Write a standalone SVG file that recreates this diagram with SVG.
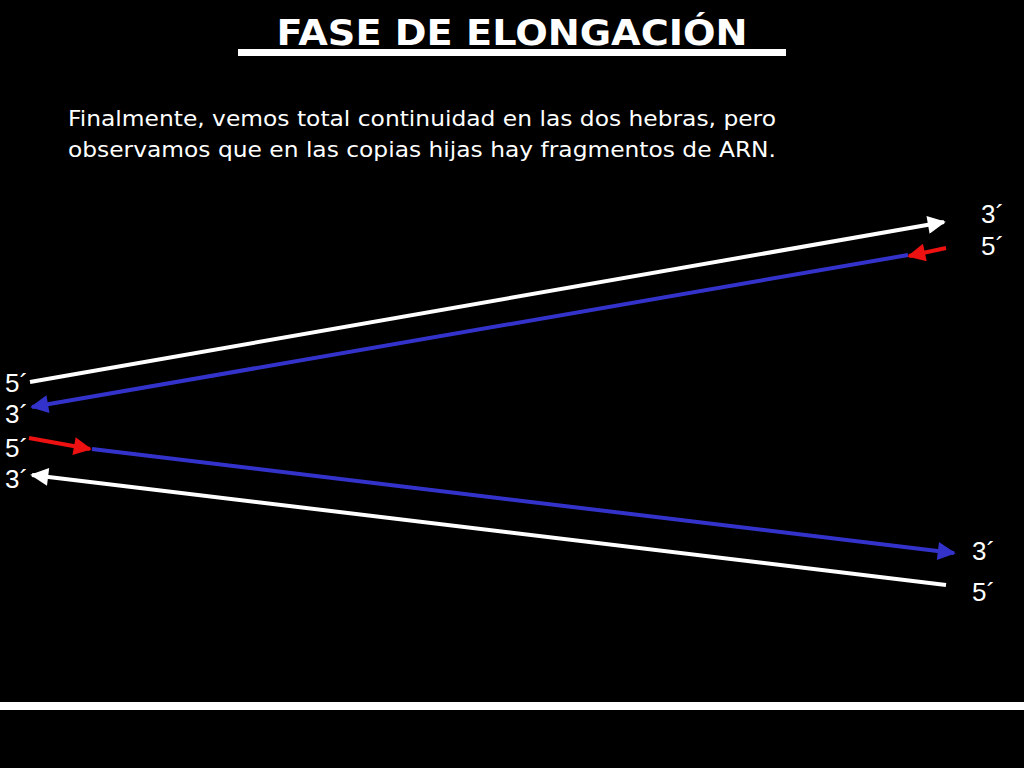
<svg xmlns="http://www.w3.org/2000/svg" width="1024" height="768" viewBox="0 0 1024 768">
<defs>
<style>
.lbl{font-family:"Liberation Sans",Arial,sans-serif;font-size:26px;fill:#fff}
.body{font-family:"DejaVu Sans","Liberation Sans",sans-serif;font-size:21px;fill:#fff}
.ttl{font-family:"DejaVu Sans","Liberation Sans",sans-serif;font-size:36px;font-weight:bold;fill:#fff}
.w{stroke:#fff;stroke-width:4;fill:none}
.b{stroke:#3333cc;stroke-width:4;fill:none}
.r{stroke:#ee1111;stroke-width:4;fill:none}
</style>
<marker id="mw" viewBox="0 0 10 10" refX="9" refY="5" markerWidth="5.5" markerHeight="4.5" orient="auto" markerUnits="strokeWidth"><path d="M0,0 L10,5 L0,10 z" fill="#fff"/></marker>
<marker id="mb" viewBox="0 0 10 10" refX="9" refY="5" markerWidth="5.5" markerHeight="4.5" orient="auto" markerUnits="strokeWidth"><path d="M0,0 L10,5 L0,10 z" fill="#3333cc"/></marker>
<marker id="mr" viewBox="0 0 10 10" refX="9" refY="5" markerWidth="5.5" markerHeight="4.5" orient="auto" markerUnits="strokeWidth"><path d="M0,0 L10,5 L0,10 z" fill="#ee1111"/></marker>
</defs>
<rect width="1024" height="768" fill="#000"/>
<g id="title">
<text class="ttl" x="512" y="45" text-anchor="middle" textLength="471" lengthAdjust="spacingAndGlyphs">FASE DE ELONGACIÓN</text>
<rect x="238" y="49" width="548" height="7" fill="#fff"/>
</g>
<g id="description">
<text class="body" x="68" y="126" textLength="708" lengthAdjust="spacingAndGlyphs">Finalmente, vemos total continuidad en las dos hebras, pero</text>
<text class="body" x="68" y="157" textLength="708" lengthAdjust="spacingAndGlyphs">observamos que en las copias hijas hay fragmentos de ARN.</text>
</g>
<g id="connectors">
<line class="w" x1="30" y1="382" x2="944" y2="222" marker-end="url(#mw)"/>
<line class="b" x1="908" y1="255" x2="32" y2="407" marker-end="url(#mb)"/>
<line class="r" x1="946" y1="248" x2="909" y2="256" marker-end="url(#mr)"/>
<line class="r" x1="29" y1="438" x2="90" y2="449" marker-end="url(#mr)"/>
<line class="b" x1="92" y1="449" x2="954" y2="553" marker-end="url(#mb)"/>
<line class="w" x1="946" y1="585" x2="32" y2="475" marker-end="url(#mw)"/>
</g>
<g id="labels">
<text class="lbl" x="981" y="223">3´</text>
<text class="lbl" x="981" y="255">5´</text>
<text class="lbl" x="5" y="392">5´</text>
<text class="lbl" x="5" y="423">3´</text>
<text class="lbl" x="5" y="457">5´</text>
<text class="lbl" x="5" y="488">3´</text>
<text class="lbl" x="972" y="560">3´</text>
<text class="lbl" x="972" y="601">5´</text>
</g>
<rect id="bottom-bar" x="0" y="702" width="1024" height="8" fill="#fff"/>
</svg>
